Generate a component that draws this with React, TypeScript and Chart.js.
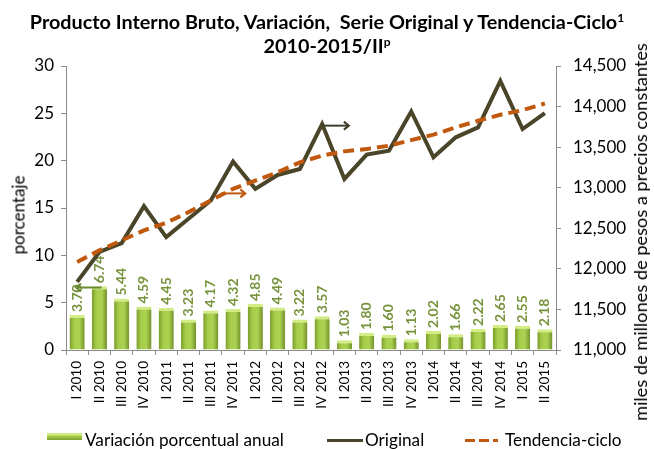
import React, { useEffect, useRef } from "react";
import { Chart, registerables } from "chart.js";

Chart.register(...registerables);

const categories = [
  "I 2010", "II 2010", "III 2010", "IV 2010",
  "I 2011", "II 2011", "III 2011", "IV 2011",
  "I 2012", "II 2012", "III 2012", "IV 2012",
  "I 2013", "II 2013", "III 2013", "IV 2013",
  "I 2014", "II 2014", "III 2014", "IV 2014",
  "I 2015", "II 2015",
];
const variacion = [3.7, 6.74, 5.44, 4.59, 4.45, 3.23, 4.17, 4.32, 4.85, 4.49, 3.22, 3.57, 1.03, 1.8, 1.6, 1.13, 2.02, 1.66, 2.22, 2.65, 2.55, 2.18];
const original = [11839, 12208, 12318, 12773, 12392, 12617, 12843, 13322, 12986, 13157, 13231, 13785, 13108, 13408, 13457, 13940, 13375, 13621, 13743, 14317, 13723, 13919];
const tendencia = [12085, 12228, 12351, 12474, 12568, 12699, 12843, 12986, 13088, 13190, 13313, 13395, 13448, 13477, 13518, 13587, 13654, 13743, 13825, 13899, 13956, 14038];
const leftRange = [0, 30, 5];
const rightRange = [11000, 14500, 500];
// annotation arrows: from/to category index, value on axis
const arrowFrom = [1.1, 6.45, 11.0];
const arrowTo = [-0.05, 7.55, 12.2];
const arrowValue = [6.6, 12930, 13765];
const arrowAxis = ["y", "y1", "y1"];
const arrowColor = ["#6b8a35", "#c0580e", "#3f3d28"];

const FONT = "Lato, 'Liberation Sans', sans-serif";
const AXIS_GRAY = "#8c8c8c";

const barGradient = (c: any) => {
  const chart = c.chart;
  const xs = chart.scales && chart.scales.x;
  if (!xs || !chart.chartArea) return "#92b83c";
  const cx = xs.getPixelForValue(c.dataIndex);
  const w = (xs.width / categories.length) * 0.68;
  const g = chart.ctx.createLinearGradient(cx - w / 2, 0, cx + w / 2, 0);
  g.addColorStop(0, "#7a9c2c");
  g.addColorStop(0.3, "#a6cd4a");
  g.addColorStop(0.65, "#acd252");
  g.addColorStop(1, "#739129");
  return g;
};

const barLabels = {
  id: "barLabels",
  afterDatasetDraw(chart: any, args: any) {
    if (args.index !== 0) return;
    const ctx: CanvasRenderingContext2D = chart.ctx;
    const meta = chart.getDatasetMeta(0);
    meta.data.forEach((el: any, i: number) => {
      const props = el.getProps(["x", "y"], true);
      ctx.save();
      ctx.setTransform(0, -1, 1, 0, props.x, props.y - 3);
      ctx.font = `bold 14px ${FONT}`;
      ctx.fillStyle = "#77933c";
      ctx.textAlign = "left";
      ctx.textBaseline = "middle";
      ctx.fillText(variacion[i].toFixed(2), 0, 0);
      ctx.restore();
    });
  },
};

const arrowsPlugin = {
  id: "arrows",
  afterDatasetsDraw(chart: any) {
    const ctx = chart.ctx;
    const xs = chart.scales.x;
    arrowFrom.forEach((f, i) => {
      const ys = chart.scales[arrowAxis[i]];
      const x0 = xs.getPixelForValue(0);
      const step = xs.getPixelForValue(1) - x0;
      const x1 = x0 + step * f;
      const x2 = x0 + step * arrowTo[i];
      const y = ys.getPixelForValue(arrowValue[i]);
      const dir = x2 > x1 ? 1 : -1;
      ctx.save();
      ctx.strokeStyle = arrowColor[i];
      ctx.lineWidth = 2;
      ctx.beginPath();
      ctx.moveTo(x1, y);
      ctx.lineTo(x2, y);
      ctx.stroke();
      ctx.beginPath();
      ctx.moveTo(x2 - dir * 5, y - 4);
      ctx.lineTo(x2, y);
      ctx.lineTo(x2 - dir * 5, y + 4);
      ctx.stroke();
      ctx.restore();
    });
  },
};

export default function App() {
  const ref = useRef<HTMLCanvasElement>(null);
  useEffect(() => {
    document.body.style.margin = "0";
    const canvas = ref.current!;
    const chart = new Chart(canvas, {
      type: "bar",
      data: {
        labels: categories,
        datasets: [
          {
            type: "bar",
            label: "Variación porcentual anual",
            data: variacion,
            yAxisID: "y",
            backgroundColor: barGradient as any,
            borderColor: "#d4ec84",
            borderWidth: { top: 3, left: 0, right: 0, bottom: 0 } as any,
            borderSkipped: "start",
            barPercentage: 0.68,
            categoryPercentage: 1,
            order: 3,
          } as any,
          {
            type: "line",
            label: "Original",
            data: original,
            yAxisID: "y1",
            borderColor: "#4a4529",
            borderWidth: 4,
            pointRadius: 0,
            tension: 0,
            fill: false,
            order: 2,
          } as any,
          {
            type: "line",
            label: "Tendencia-ciclo",
            data: tendencia,
            yAxisID: "y1",
            borderColor: "#c0580e",
            borderWidth: 4,
            borderDash: [11, 6],
            pointRadius: 0,
            tension: 0,
            fill: false,
            order: 1,
          } as any,
        ],
      },
      options: {
        responsive: false,
        animation: false,
        devicePixelRatio: 1,
        layout: { padding: { top: 66, left: 0, right: 0, bottom: 0 } },
        plugins: {
          legend: { display: false },
          title: { display: false },
          tooltip: { enabled: false },
        },
        scales: {
          x: {
            grid: { offset: true, drawOnChartArea: false, drawTicks: true, tickLength: 5, color: AXIS_GRAY },
            border: { color: AXIS_GRAY },
            ticks: {
              maxRotation: 90,
              minRotation: 90,
              autoSkip: false,
              padding: 6,
              color: "#000",
              font: { family: FONT, size: 13.5 },
            },
            afterFit: (s: any) => { s.height = 99; },
          },
          y: {
            position: "left",
            min: leftRange[0],
            max: leftRange[1],
            ticks: { stepSize: leftRange[2], padding: 7, color: "#000", font: { family: FONT, size: 17 } },
            grid: { drawOnChartArea: false, drawTicks: true, tickLength: 5, color: AXIS_GRAY },
            border: { color: AXIS_GRAY },
            afterFit: (s: any) => { s.width = 66; },
          },
          y1: {
            position: "right",
            min: rightRange[0],
            max: rightRange[1],
            ticks: {
              stepSize: rightRange[2],
              padding: 12,
              color: "#000",
              font: { family: FONT, size: 17 },
              callback: (v: any) => Number(v).toLocaleString("en-US"),
            },
            grid: { drawOnChartArea: false, drawTicks: true, tickLength: 5, color: AXIS_GRAY },
            border: { color: AXIS_GRAY },
            afterFit: (s: any) => { s.width = 98; },
          },
        },
      } as any,
      plugins: [barLabels, arrowsPlugin],
    });
    return () => chart.destroy();
  }, []);

  const txt: React.CSSProperties = { position: "absolute", fontFamily: FONT, color: "#000", whiteSpace: "nowrap" };
  const sup: React.CSSProperties = { fontSize: 12, verticalAlign: "7px", lineHeight: 0 };
  return (
    <div style={{ position: "relative", width: 654, height: 449, background: "#fff", overflow: "hidden" }}>
      <canvas ref={ref} width={654} height={449} style={{ position: "absolute", left: 0, top: 0 }} />
      <div style={{ ...txt, left: 0, width: 654, top: 9, textAlign: "center", fontWeight: "bold", fontSize: 19.8, lineHeight: "24px" }}>
        Producto Interno Bruto, Variación,&nbsp; Serie Original y Tendencia-Ciclo<sup style={sup}>1</sup>
      </div>
      <div style={{ ...txt, left: 0, width: 654, top: 33, textAlign: "center", fontWeight: "bold", fontSize: 19.8, lineHeight: "24px" }}>
        2010-2015/II<sup style={sup}>p</sup>
      </div>
      <div style={{ ...txt, left: 18, top: 215, fontSize: 17, transform: "translate(-50%, -50%) rotate(-90deg)" }}>porcentaje</div>
      <div style={{ ...txt, left: 640, top: 232, fontSize: 18.2, transform: "translate(-50%, -50%) rotate(-90deg)" }}>
        miles de millones de pesos a precios constantes
      </div>
      {/* legend */}
      <div style={{ position: "absolute", left: 47, top: 433, width: 35, height: 7, background: "linear-gradient(#d4ec84 0, #d4ec84 2px, #a6cd4a 3px, #80a42f 100%)" }} />
      <div style={{ ...txt, left: 85, top: 440, fontSize: 17.2, lineHeight: "20px", transform: "translateY(-50%)" }}>Variación porcentual anual</div>
      <div style={{ position: "absolute", left: 327, top: 439, width: 36, height: 3, background: "#4a4529" }} />
      <div style={{ ...txt, left: 365, top: 440, fontSize: 17.2, lineHeight: "20px", transform: "translateY(-50%)" }}>Original</div>
      <div style={{ position: "absolute", left: 465, top: 439, width: 10, height: 3, background: "#c0580e" }} />
      <div style={{ position: "absolute", left: 479, top: 439, width: 10, height: 3, background: "#c0580e" }} />
      <div style={{ position: "absolute", left: 493, top: 439, width: 5, height: 3, background: "#c0580e" }} />
      <div style={{ ...txt, left: 505, top: 440, fontSize: 17.2, lineHeight: "20px", transform: "translateY(-50%)" }}>Tendencia-ciclo</div>
    </div>
  );
}
